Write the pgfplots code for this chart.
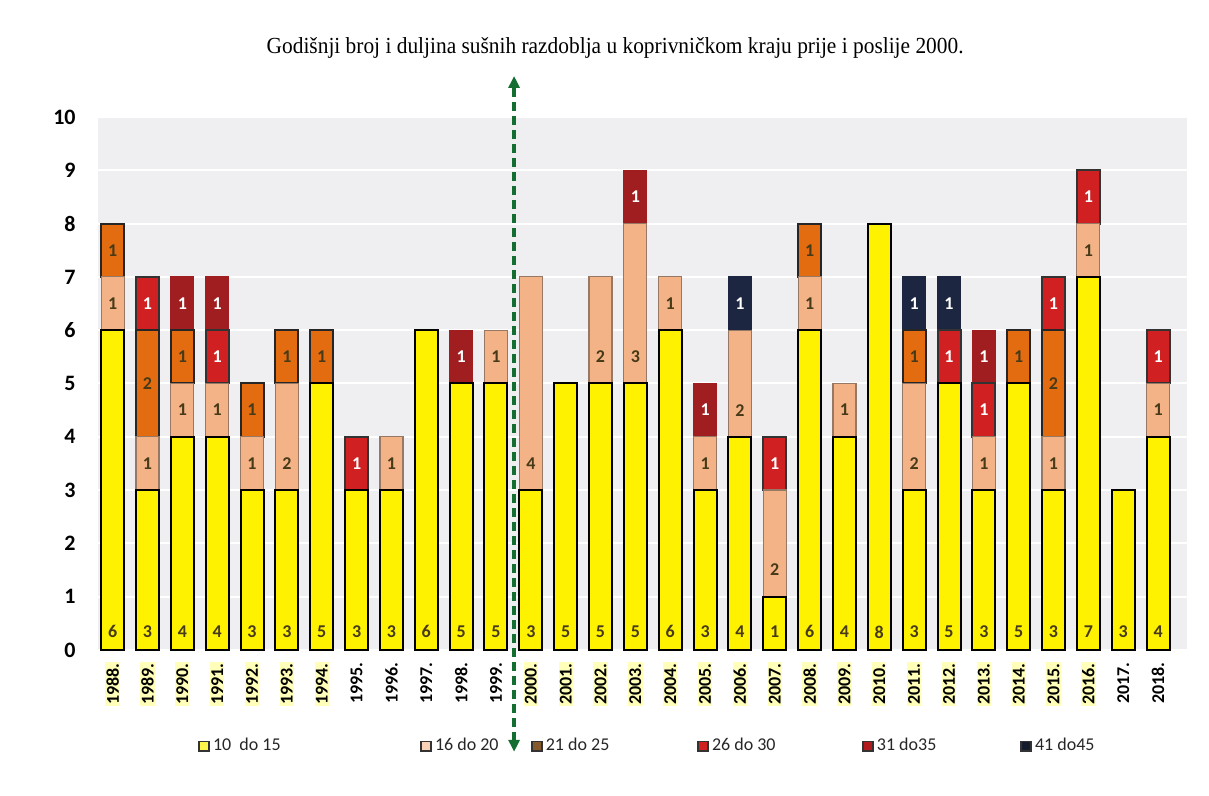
\documentclass[border=0pt]{standalone}
\usepackage{pgfplots}
\pgfplotsset{compat=1.18}
\usepackage{pgfplotstable}
\usepackage{fontspec}
\setmainfont{Carlito}
\newfontfamily\titlefont{Liberation Serif}
\usetikzlibrary{arrows.meta}
\definecolor{cyel}{RGB}{255,242,0}
\definecolor{cpea}{RGB}{244,179,135}
\definecolor{cora}{RGB}{228,108,16}
\definecolor{cred}{RGB}{208,32,34}
\definecolor{cmar}{RGB}{160,30,32}
\definecolor{cnav}{RGB}{28,38,64}
\definecolor{bgc}{RGB}{239,239,241}
\definecolor{dkg}{RGB}{20,110,50}
\definecolor{labd}{RGB}{70,58,24}
\definecolor{hly}{RGB}{255,255,185}
\definecolor{peab}{RGB}{150,120,100}
\newcommand{\hl}[1]{{\setlength{\fboxsep}{0.6pt}\colorbox{hly}{#1}}}
\newcommand{\lsq}[1]{{\setlength{\fboxsep}{0pt}\setlength{\fboxrule}{0.9pt}\raisebox{-0.2pt}{\fcolorbox{black!80}{#1}{\rule{0pt}{4pt}\hspace{4pt}}}}}
\pgfplotstableread{
x a b c d e f
0 6 1 1 0 0 0
1 3 1 2 1 0 0
2 4 1 1 0 1 0
3 4 1 0 1 1 0
4 3 1 1 0 0 0
5 3 2 1 0 0 0
6 5 0 1 0 0 0
7 3 0 0 1 0 0
8 3 1 0 0 0 0
9 6 0 0 0 0 0
10 5 0 0 0 1 0
11 5 1 0 0 0 0
12 3 4 0 0 0 0
13 5 0 0 0 0 0
14 5 2 0 0 0 0
15 5 3 0 0 1 0
16 6 1 0 0 0 0
17 3 1 0 0 1 0
18 4 2 0 0 0 1
19 1 2 0 1 0 0
20 6 1 1 0 0 0
21 4 1 0 0 0 0
22 8 0 0 0 0 0
23 3 2 1 0 0 1
24 5 0 0 1 0 1
25 3 1 0 1 1 0
26 5 0 1 0 0 0
27 3 1 2 1 0 0
28 7 1 0 1 0 0
29 3 0 0 0 0 0
30 4 1 0 1 0 0
}\data
\pgfplotsset{
  seglabel/.style 2 args={
    visualization depends on=rawy\as\rawy,
    nodes near coords={\ifdim\rawy pt>0.5pt \pgfmathprintnumber[fixed,precision=0]{\rawy}\fi},
    every node near coord/.append style={font=\bfseries\fontsize{9}{9}\selectfont,
      anchor=center, text=#1, yshift={#2}}
  }
}
\begin{document}
\begin{tikzpicture}[x=1pt,y=1pt]
\useasboundingbox (-49,-73) rectangle (555.5,325);
\begin{axis}[
  at={(0,0)}, anchor=south west,
  scale only axis, width=544.5pt, height=266.5pt,
  ymin=0, ymax=10, xmin=-0.42, xmax=30.83,
  ybar stacked, bar width=11.5pt,
  axis background/.style={fill=bgc},
  axis line style={draw=none},
  major tick length=0pt,
  ytick={0,1,...,10},
  ymajorgrids, grid style={white, line width=1pt},
  xtick={0,1,...,30},
  xticklabels={\hl{1988.},\hl{1989.},\hl{1990.},\hl{1991.},\hl{1992.},\hl{1993.},\hl{1994.},1995.,1996.,1997.,1998.,1999.,\hl{2000.},\hl{2001.},\hl{2002.},\hl{2003.},\hl{2004.},\hl{2005.},\hl{2006.},\hl{2007.},\hl{2008.},\hl{2009.},\hl{2010.},\hl{2011.},\hl{2012.},\hl{2013.},\hl{2014.},\hl{2015.},\hl{2016.},2017.,2018.},
  x tick label style={rotate=90, anchor=east, inner sep=0.5pt, font=\bfseries\fontsize{9}{9}\selectfont},
  xticklabel shift=5.5pt,
  y tick label style={font=\bfseries\fontsize{11}{11}\selectfont, anchor=east, inner sep=0pt},
  yticklabel shift=11pt,
  /pgf/number format/assume math mode=true,
  clip=false,
]
\addplot[fill=cyel, draw=black, line width=1pt, seglabel={labd}{(0.34-\rawy/2)*26.65}] table[x=x,y=a]{\data};
\addplot[fill=cpea, draw=peab, line width=0.6pt, seglabel={labd}{(0.5-\rawy/2)*26.65}] table[x=x,y=b]{\data};
\addplot[fill=cora, draw=black!85, line width=1pt, seglabel={labd}{0}] table[x=x,y=c]{\data};
\addplot[fill=cred, draw=black!80, line width=1pt, seglabel={white}{0}] table[x=x,y=d]{\data};
\addplot[fill=cmar, draw=cmar, line width=0.6pt, seglabel={white}{0}] table[x=x,y=e]{\data};
\addplot[fill=cnav, draw=cnav, line width=0.6pt, seglabel={white}{0}] table[x=x,y=f]{\data};
\draw[dkg, line width=1.6pt, dash pattern=on 4.5pt off 2.5pt, {Triangle[width=5.5pt,length=6pt]}-{Triangle[width=5.5pt,length=6pt]}]
  (axis cs:11.52,-1.91) -- (axis cs:11.52,10.77);
\node[font=\titlefont\fontsize{11.5}{11.5}\selectfont] at (axis cs:14.42,11.29) {\scalebox{0.93}[1]{Godišnji broj i duljina sušnih razdoblja u koprivničkom kraju prije i poslije 2000.}};
\node[anchor=west, inner sep=0pt, font=\fontsize{9}{9}\selectfont, text=black!85] at (axis cs:2.45,-1.78) {\lsq{cyel!70!white}\,10\ \ do 15};
\node[anchor=west, inner sep=0pt, font=\fontsize{9}{9}\selectfont, text=black!85] at (axis cs:8.82,-1.78) {\lsq{cpea!60!white}\,16 do 20};
\node[anchor=west, inner sep=0pt, font=\fontsize{9}{9}\selectfont, text=black!85] at (axis cs:12.0,-1.78) {\lsq{brown!70!black}\,21 do 25};
\node[anchor=west, inner sep=0pt, font=\fontsize{9}{9}\selectfont, text=black!85] at (axis cs:16.77,-1.78) {\lsq{cred}\,26 do 30};
\node[anchor=west, inner sep=0pt, font=\fontsize{9}{9}\selectfont, text=black!85] at (axis cs:21.5,-1.78) {\lsq{cred!85!black}\,31 do35};
\node[anchor=west, inner sep=0pt, font=\fontsize{9}{9}\selectfont, text=black!85] at (axis cs:26.04,-1.78) {\lsq{cnav!70!black}\,41 do45};
\end{axis}
\end{tikzpicture}
\end{document}
